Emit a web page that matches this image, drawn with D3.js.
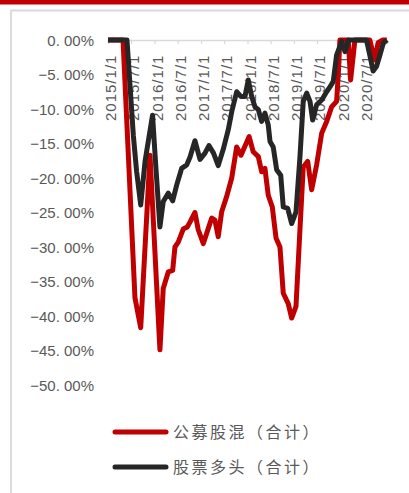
<!DOCTYPE html>
<html>
<head>
<meta charset="utf-8">
<script src="https://cdn.jsdelivr.net/npm/d3@7/dist/d3.min.js"></script>
<style>
  html, body { margin: 0; padding: 0; background: #fff; }
  svg { display: block; }
</style>
</head>
<body>
<svg id="chart" width="409" height="493"></svg>
<script>
// Series names (legend order)
const seriesNames = ["公募股混（合计）", "股票多头（合计）"];

// 公募股混（合计） drawdown, %
const redDates = [
  "2015-01-01","2015-04-29","2015-08-01","2015-09-15","2015-11-27","2016-02-13",
  "2016-03-10","2016-04-19","2016-05-23","2016-06-10","2016-07-06","2016-08-14",
  "2016-09-15","2016-10-06","2016-11-14","2016-12-10","2017-01-19","2017-02-27",
  "2017-03-26","2017-04-20","2017-05-16","2017-06-12","2017-07-21","2017-08-30",
  "2017-10-08","2017-11-11","2018-01-14","2018-02-15","2018-03-27","2018-04-22",
  "2018-05-18","2018-06-13","2018-07-15","2018-08-13","2018-09-13","2018-10-09",
  "2018-11-17","2018-12-14","2019-01-17","2019-02-17","2019-03-15","2019-04-19",
  "2019-05-20","2019-06-28","2019-08-07","2019-09-15","2019-10-24","2019-12-02",
  "2019-12-15","2019-12-28","2020-03-03","2020-03-21","2020-04-24","2020-08-19",
  "2020-09-27","2020-10-23","2020-11-30","2020-12-31"
];
const redValues = [
  0, 0, -37.4, -41.7, -16.7, -44.9,
  -36.0, -33.6, -33.4, -30.0, -29.3, -27.4,
  -27.1, -26.4, -25.0, -27.5, -29.5, -27.3,
  -25.8, -26.1, -28.5, -24.9, -22.7, -20.0,
  -15.5, -16.7, -14.0, -16.2, -16.9, -19.1,
  -18.6, -22.5, -24.2, -28.7, -30.0, -36.7,
  -38.2, -40.3, -38.6, -27.5, -18.4, -17.6,
  -21.7, -18.1, -13.5, -11.8, -9.7, -8.9,
  -5.1, 0, 0, -5.8, 0, 0,
  -2.9, -0.4, 0, 0
];

// 股票多头（合计） drawdown, %
const blackDates = [
  "2015-01-01","2015-05-30","2015-07-19","2015-08-14","2015-09-15","2015-10-19",
  "2015-12-17","2016-01-09","2016-02-13","2016-03-10","2016-04-19","2016-05-23",
  "2016-06-24","2016-08-02","2016-09-10","2016-10-06","2016-11-14","2016-12-24",
  "2017-02-01","2017-03-04","2017-04-09","2017-05-16","2017-06-25","2017-08-03",
  "2017-08-30","2017-10-08","2017-11-11","2017-12-12","2018-01-07","2018-02-03",
  "2018-03-01","2018-03-27","2018-04-22","2018-05-18","2018-06-13","2018-06-27",
  "2018-07-22","2018-08-18","2018-09-19","2018-10-09","2018-11-13","2018-12-14",
  "2019-01-17","2019-02-17","2019-03-15","2019-04-11","2019-05-07","2019-05-28",
  "2019-06-28","2019-08-07","2019-09-15","2019-10-11","2019-11-06","2019-12-02",
  "2020-01-11","2020-02-06","2020-03-03","2020-07-24","2020-08-19","2020-09-14",
  "2020-10-11","2020-11-06","2020-12-02","2020-12-31"
];
const blackValues = [
  0, 0, -13.8, -19.1, -23.9, -17.6,
  -10.9, -17.6, -27.1, -23.4, -22.2, -23.3,
  -21.0, -18.6, -18.1, -17.0, -14.6, -17.3,
  -16.4, -15.3, -16.4, -18.2, -15.8, -13.0,
  -10.4, -7.5, -8.2, -8.2, -5.8, -8.2,
  -9.7, -10.1, -11.8, -10.6, -12.3, -14.7,
  -15.5, -18.8, -19.6, -24.2, -24.4, -26.6,
  -24.9, -17.0, -8.9, -7.7, -8.9, -11.6,
  -9.4, -8.7, -7.5, -6.8, -6.0, -2.2,
  -0.2, -1.7, 0, 0, -2.2, -4.5,
  -3.8, -2.2, -0.5, 0
];

// Axis labels
const xTickLabels = ["2015/1/1","2015/7/1","2016/1/1","2016/7/1","2017/1/1","2017/7/1",
  "2018/1/1","2018/7/1","2019/1/1","2019/7/1","2020/1/1","2020/7/1"];
const yTicks = [0, -5, -10, -15, -20, -25, -30, -35, -40, -45, -50];

const colors = ["#C00000", "#262626"];
const textColor = "#595959";

const svg = d3.select("#chart");
const parse = d3.utcParse("%Y-%m-%d");

const x = d3.scaleUtc()
  .domain([parse("2015-01-01"), parse("2021-01-01")])
  .range([108, 387]);
const y = d3.scaleLinear().domain([-50, 0]).range([385, 40]);

// Header band and frame
svg.append("rect").attr("x", 0).attr("y", 0).attr("width", 409).attr("height", 4.5)
  .attr("fill", "#C00000");
svg.append("path")
  .attr("d", "M11,493 L11,10.5 L409,10.5")
  .attr("fill", "none").attr("stroke", "#D9D9D9").attr("stroke-width", 1.8);

// Y axis labels
const fmt = v => (v < 0 ? "\u2212" : "") + Math.abs(v).toFixed(2).replace(".", ". ") + "%";
svg.append("g").selectAll("text").data(yTicks).join("text")
  .attr("x", 94).attr("y", d => y(d)).attr("dy", "0.38em")
  .attr("text-anchor", "end")
  .attr("font-family", "Liberation Sans, Arial, sans-serif")
  .attr("font-size", 15).attr("fill", textColor)
  .text(fmt);

// X axis along the zero line
const tickDates = d3.utcMonth.every(6).range(parse("2015-01-01"), parse("2021-01-02"));
const xAxis = d3.axisBottom(x).tickValues(tickDates).tickSize(4).tickFormat("");
const gx = svg.append("g").attr("transform", `translate(0,${y(0)})`).call(xAxis);
gx.select(".domain").attr("stroke", "#D9D9D9").attr("stroke-width", 1.5);
gx.selectAll(".tick line").attr("stroke", "#D9D9D9").attr("stroke-width", 1.2);

svg.append("g").selectAll("text").data(xTickLabels).join("text")
  .attr("transform", (d, i) => `translate(${x(tickDates[i]) + 3},121) rotate(-90)`)
  .attr("dy", "0.36em")
  .attr("text-anchor", "start")
  .attr("font-family", "Liberation Sans, Arial, sans-serif")
  .attr("font-size", 15).attr("letter-spacing", 1)
  .attr("fill", textColor)
  .text(d => d);

// Drawdown lines
const line = d3.line().x(d => x(d[0])).y(d => y(d[1]));
const series = [
  redDates.map((d, i) => [parse(d), redValues[i]]),
  blackDates.map((d, i) => [parse(d), blackValues[i]])
];
series.forEach((s, i) => {
  svg.append("path").datum(s)
    .attr("d", line)
    .attr("fill", "none")
    .attr("stroke", colors[i])
    .attr("stroke-width", 5)
    .attr("stroke-linejoin", "round");
});

// Legend
const legendY = [432, 467];
const lg = svg.append("g");
seriesNames.forEach((name, i) => {
  lg.append("line")
    .attr("x1", 115).attr("x2", 166).attr("y1", legendY[i]).attr("y2", legendY[i])
    .attr("stroke", colors[i]).attr("stroke-width", 5).attr("stroke-linecap", "round");
  lg.append("text")
    .attr("x", 173).attr("y", legendY[i]).attr("dy", "0.36em")
    .attr("font-family", "Noto Sans CJK SC, sans-serif")
    .attr("font-size", 16).attr("letter-spacing", 2.5)
    .attr("fill", textColor)
    .text(name);
});
</script>
</body>
</html>
